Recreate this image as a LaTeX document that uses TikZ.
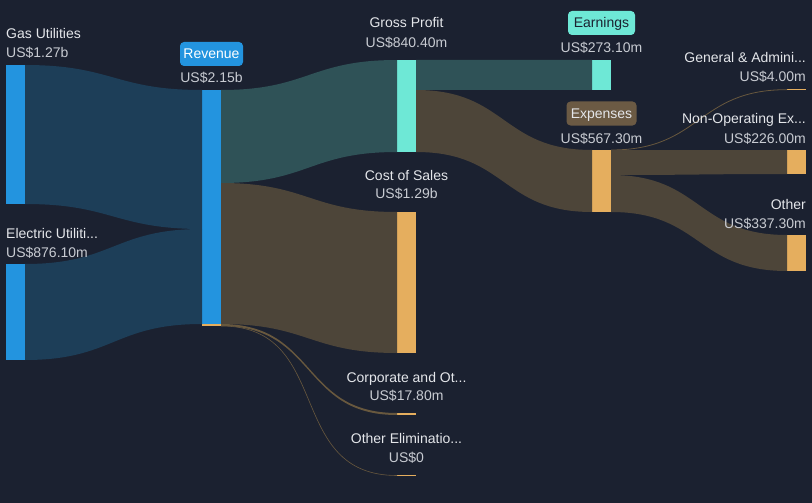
\documentclass[tikz,border=0pt]{standalone}
\usepackage{fontspec}
\setmainfont{Liberation Sans}
\definecolor{bgc}{RGB}{27,33,48}
\definecolor{bluebar}{RGB}{35,148,223}
\definecolor{blueflow}{RGB}{29,62,88}
\definecolor{tealbar}{RGB}{110,232,214}
\definecolor{tealflow}{RGB}{47,82,87}
\definecolor{orangebar}{RGB}{229,174,94}
\definecolor{brownflow}{RGB}{77,69,57}
\definecolor{brownline}{RGB}{104,88,62}
\definecolor{expbadge}{RGB}{107,90,68}
\definecolor{txtc}{RGB}{228,230,234}
\definecolor{valc}{RGB}{200,203,210}
\tikzset{
  bar/.style={fill=#1, inner sep=0pt, outer sep=0pt, minimum width=19pt, anchor=north west},
  lbl/.style={text=txtc, font=\fontsize{14}{16}\selectfont, inner sep=0pt},
  val/.style={lbl, text=valc},
  badge/.style={fill=#1, rounded corners=4pt, inner sep=0pt, minimum height=24pt,
    font=\fontsize{14}{16}\selectfont, text height=10pt, text depth=0pt},
}
\newcommand{\flow}[5]{\fill[#5] (#1) to[out=0,in=180,looseness=1.25] (#3) -- (#4) to[out=180,in=0,looseness=1.25] (#2) -- cycle;}
\begin{document}
\begin{tikzpicture}[x=1pt,y=-1pt]
\fill[bgc] (0,0) rectangle (812,503);
\useasboundingbox (0,0) rectangle (812,503);
% bars
\node[bar=bluebar, minimum height=139pt] (gas) at (6,65) {};
\node[bar=bluebar, minimum height=96pt] (elec) at (6,264) {};
\node[bar=bluebar, minimum height=234pt] (rev) at (202,90) {};
\node[bar=orangebar, minimum height=2pt] (revx) at (202,324) {};
\node[bar=tealbar, minimum height=92pt] (gp) at (397,60) {};
\node[bar=orangebar, minimum height=141pt] (cos) at (397,212) {};
\node[bar=orangebar, minimum height=2pt] (corp) at (397,413) {};
\node[bar=orangebar, minimum height=1pt] (elim) at (397,475) {};
\node[bar=tealbar, minimum height=30pt] (earn) at (592,60) {};
\node[bar=orangebar, minimum height=62pt] (exp) at (592,150) {};
\node[bar=orangebar, minimum height=1.3pt] (ga) at (787,89) {};
\node[bar=orangebar, minimum height=24pt] (nonop) at (787,150) {};
\node[bar=orangebar, minimum height=36pt] (other) at (787,235) {};
% split points
\coordinate (revin) at ([yshift=-139pt]rev.north west);
\coordinate (revgp) at ([yshift=-93pt]rev.north east);
\coordinate (gpearn) at ([yshift=-30pt]gp.north east);
\coordinate (expnon) at ([yshift=-25pt]exp.north east);
% flows
\flow{gas.north east}{gas.south east}{rev.north west}{revin}{blueflow}
\flow{elec.north east}{elec.south east}{revin}{rev.south west}{blueflow}
\flow{rev.north east}{revgp}{gp.north west}{gp.south west}{tealflow}
\flow{revgp}{rev.south east}{cos.north west}{cos.south west}{brownflow}
\flow{revx.north east}{revx.south east}{corp.north west}{corp.south west}{brownline}
\draw[brownline, line width=0.6pt] (revx.south east) to[out=0,in=180,looseness=1.25] (elim.west);
\flow{gp.north east}{gpearn}{earn.north west}{earn.south west}{tealflow}
\flow{gpearn}{gp.south east}{exp.north west}{exp.south west}{brownflow}
\draw[brownline, line width=0.8pt] (exp.north east) to[out=0,in=180,looseness=1.25] (ga.west);
\flow{exp.north east}{expnon}{nonop.north west}{nonop.south west}{brownflow}
\flow{expnon}{exp.south east}{other.north west}{other.south west}{brownflow}
% labels
\node[lbl, anchor=base west] (gasname) at (6,39) {Gas Utilities};
\node[val, anchor=base west] (gasval) at (6,58) {US\$1.27b};
\node[lbl, anchor=base west] (elecname) at (6,238) {Electric Utiliti...};
\node[val, anchor=base west] (elecval) at (6,257) {US\$876.10m};
\node[badge=bluebar, text=white, minimum width=63pt] (revname) at (211.5,54) {Revenue};
\node[val, anchor=base] (revval) at (211.5,83) {US\$2.15b};
\node[lbl, anchor=base] (gpname) at (406.5,28) {Gross Profit};
\node[val, anchor=base] (gpval) at (406.5,48) {US\$840.40m};
\node[lbl, anchor=base] (cosname) at (406.5,180) {Cost of Sales};
\node[val, anchor=base] (cosval) at (406.5,198) {US\$1.29b};
\node[lbl, anchor=base] (corpname) at (406.5,382) {Corporate and Ot...};
\node[val, anchor=base] (corpval) at (406.5,400) {US\$17.80m};
\node[lbl, anchor=base] (elimname) at (406.5,443) {Other Eliminatio...};
\node[val, anchor=base] (elimval) at (406.5,462) {US\$0};
\node[badge=tealbar, text=bgc, minimum width=67pt] (earnname) at (601.5,23) {Earnings};
\node[val, anchor=base] (earnval) at (601.5,53) {US\$273.10m};
\node[badge=expbadge, text=txtc, minimum width=70pt] (expname) at (601.5,113.5) {Expenses};
\node[val, anchor=base] (expval) at (601.5,143) {US\$567.30m};
\node[lbl, anchor=base east] (ganame) at (806,63) {General \& Admini...};
\node[val, anchor=base east] (gaval) at (806,82) {US\$4.00m};
\node[lbl, anchor=base east] (nonname) at (806,124) {Non-Operating Ex...};
\node[val, anchor=base east] (nonval) at (806,143) {US\$226.00m};
\node[lbl, anchor=base east] (othername) at (806,209) {Other};
\node[val, anchor=base east] (otherval) at (806,228) {US\$337.30m};
\end{tikzpicture}
\end{document}
